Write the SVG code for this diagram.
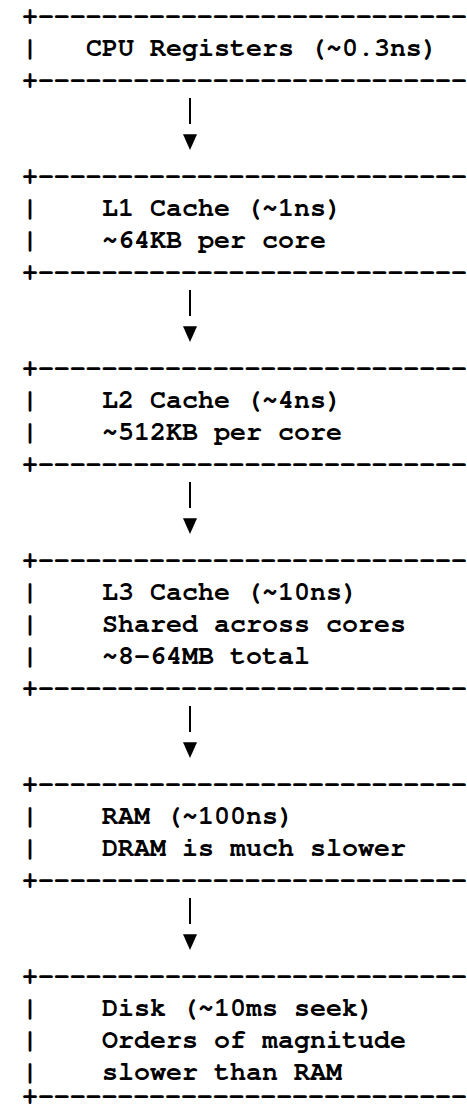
<svg xmlns="http://www.w3.org/2000/svg" xmlns:xlink="http://www.w3.org/1999/xlink" width="467" height="1106" viewBox="0 0 467 1106">
  <style>
    .t { font-family: "Nimbus Mono PS", "Nimbus Mono L", "FreeMono", "Courier New", "Liberation Mono", monospace; font-size: 26.667px; font-weight: bold; fill: #000; }
    .conn { stroke: #000; stroke-width: 2; fill: none; }
    .head { fill: #000; }
  </style>
  <defs>
    <path id="tri" d="M-7,0 L7,0 L0,15.7 Z"/>
  </defs>
  <rect x="0" y="0" width="467" height="1106" fill="#fff"/>

  <g id="cpu-registers">
    <text class="t" x="22" y="23.5" textLength="445" lengthAdjust="spacing">+---------------------------</text>
    <text class="t" x="22" y="55.5">|</text>
    <text class="t" x="86" y="55.5">CPU Registers (~0.3ns)</text>
    <text class="t" x="22" y="87.5" textLength="445" lengthAdjust="spacing">+---------------------------</text>
  </g>

  <g id="l1-cache">
    <text class="t" x="22" y="183.5" textLength="445" lengthAdjust="spacing">+---------------------------</text>
    <text class="t" x="22" y="215.5">|</text>
    <text class="t" x="102" y="215.5">L1 Cache (~1ns)</text>
    <text class="t" x="22" y="247.5">|</text>
    <text class="t" x="102" y="247.5">~64KB per core</text>
    <text class="t" x="22" y="279.5" textLength="445" lengthAdjust="spacing">+---------------------------</text>
  </g>

  <g id="l2-cache">
    <text class="t" x="22" y="375.5" textLength="445" lengthAdjust="spacing">+---------------------------</text>
    <text class="t" x="22" y="407.5">|</text>
    <text class="t" x="102" y="407.5">L2 Cache (~4ns)</text>
    <text class="t" x="22" y="439.5">|</text>
    <text class="t" x="102" y="439.5">~512KB per core</text>
    <text class="t" x="22" y="471.5" textLength="445" lengthAdjust="spacing">+---------------------------</text>
  </g>

  <g id="l3-cache">
    <text class="t" x="22" y="567.5" textLength="445" lengthAdjust="spacing">+---------------------------</text>
    <text class="t" x="22" y="599.5">|</text>
    <text class="t" x="102" y="599.5">L3 Cache (~10ns)</text>
    <text class="t" x="22" y="631.5">|</text>
    <text class="t" x="102" y="631.5">Shared across cores</text>
    <text class="t" x="22" y="663.5">|</text>
    <text class="t" x="102" y="663.5">~8-64MB total</text>
    <text class="t" x="22" y="695.5" textLength="445" lengthAdjust="spacing">+---------------------------</text>
  </g>

  <g id="ram">
    <text class="t" x="22" y="791.5" textLength="445" lengthAdjust="spacing">+---------------------------</text>
    <text class="t" x="22" y="823.5">|</text>
    <text class="t" x="102" y="823.5">RAM (~100ns)</text>
    <text class="t" x="22" y="855.5">|</text>
    <text class="t" x="102" y="855.5">DRAM is much slower</text>
    <text class="t" x="22" y="887.5" textLength="445" lengthAdjust="spacing">+---------------------------</text>
  </g>

  <g id="disk">
    <text class="t" x="22" y="983.5" textLength="445" lengthAdjust="spacing">+---------------------------</text>
    <text class="t" x="22" y="1015.5">|</text>
    <text class="t" x="102" y="1015.5">Disk (~10ms seek)</text>
    <text class="t" x="22" y="1047.5">|</text>
    <text class="t" x="102" y="1047.5">Orders of magnitude</text>
    <text class="t" x="22" y="1079.5">|</text>
    <text class="t" x="102" y="1079.5">slower than RAM</text>
    <text class="t" x="22" y="1104" textLength="445" lengthAdjust="spacing">+---------------------------</text>
  </g>

  <g id="connectors">
    <line class="conn" x1="190" y1="98" x2="190" y2="124"/>
    <use class="head" xlink:href="#tri" x="190" y="134.3"/>
    <line class="conn" x1="190" y1="290" x2="190" y2="316"/>
    <use class="head" xlink:href="#tri" x="190" y="326.3"/>
    <line class="conn" x1="190" y1="482" x2="190" y2="508"/>
    <use class="head" xlink:href="#tri" x="190" y="518.3"/>
    <line class="conn" x1="190" y1="706" x2="190" y2="732"/>
    <use class="head" xlink:href="#tri" x="190" y="742.3"/>
    <line class="conn" x1="190" y1="898" x2="190" y2="924"/>
    <use class="head" xlink:href="#tri" x="190" y="934.3"/>
  </g>
</svg>
